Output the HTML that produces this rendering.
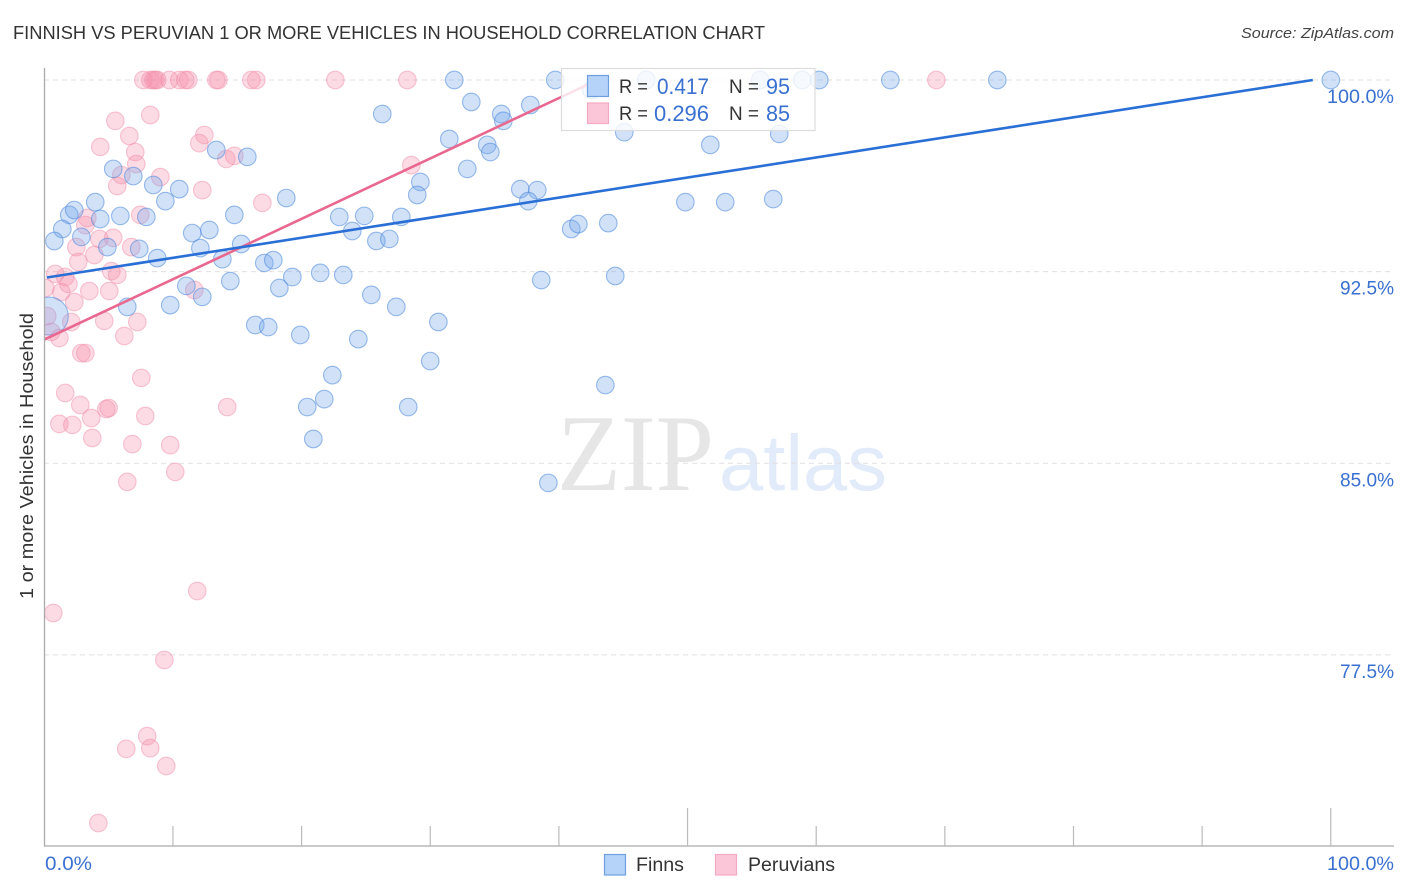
<!DOCTYPE html>
<html lang="en">
<head>
<meta charset="utf-8">
<title>Finnish vs Peruvian 1 or more Vehicles in Household Correlation Chart</title>
<style>
html,body{margin:0;padding:0;background:#fff;}
body{width:1406px;height:892px;overflow:hidden;}
svg{display:block;font-family:"Liberation Sans",sans-serif;}
</style>
</head>
<body>
<svg id="chart" width="1406" height="892" viewBox="0 0 1406 892" xmlns="http://www.w3.org/2000/svg">
  <rect x="0" y="0" width="1406" height="892" fill="#fff"/>
  <text x="13" y="39" font-size="18.5" fill="#333" textLength="752" lengthAdjust="spacingAndGlyphs">FINNISH VS PERUVIAN 1 OR MORE VEHICLES IN HOUSEHOLD CORRELATION CHART</text>
  <text x="1241" y="38" font-size="15" font-style="italic" fill="#444" textLength="153" lengthAdjust="spacingAndGlyphs">Source: ZipAtlas.com</text>
  <g>
    <text x="557" y="490" font-family="'Liberation Serif',serif" font-size="109" fill="#e6e6e6" textLength="157" lengthAdjust="spacingAndGlyphs">ZIP</text>
    <text x="719" y="490" font-size="79" fill="#e2ebf9" textLength="168" lengthAdjust="spacingAndGlyphs">atlas</text>
  </g>
  <g id="grid"></g>
  <g id="peruvian-points"></g>
  <g id="finn-points"></g>
  <g id="trends"></g>
  <rect x="0" y="60" width="44.5" height="786" fill="#fff"/>
  <g id="axes"></g>
  <text transform="translate(33,456) rotate(-90)" text-anchor="middle" font-size="18.5" fill="#333" textLength="286" lengthAdjust="spacingAndGlyphs">1 or more Vehicles in Household</text>
  <g id="y-labels"></g>
  <g id="x-labels"></g>

  <g>
    <rect x="561.5" y="68.5" width="253.5" height="62" fill="#fff" fill-opacity="0.8" stroke="#dcdcdc" stroke-width="1.2"/>
    <rect x="587.5" y="75.5" width="21" height="21" fill="#b5d2f8" stroke="#6ea0df" stroke-width="1.2"/>
    <rect x="587.5" y="103" width="21" height="20.5" fill="#fcc6d9" stroke="#f6a9c2" stroke-width="1.2"/>
    <text x="619" y="93" font-size="19" fill="#333" textLength="29" lengthAdjust="spacingAndGlyphs">R =</text>
    <text x="657" y="94" font-size="22" fill="#3a70d0" textLength="52" lengthAdjust="spacingAndGlyphs">0.417</text>
    <text x="729" y="93" font-size="19" fill="#333" textLength="30" lengthAdjust="spacingAndGlyphs">N =</text>
    <text x="766" y="94" font-size="22" fill="#3a70d0" textLength="24" lengthAdjust="spacingAndGlyphs">95</text>
    <text x="619" y="120" font-size="19" fill="#333" textLength="29" lengthAdjust="spacingAndGlyphs">R =</text>
    <text x="654" y="121" font-size="22" fill="#3a70d0" textLength="55" lengthAdjust="spacingAndGlyphs">0.296</text>
    <text x="729" y="120" font-size="19" fill="#333" textLength="30" lengthAdjust="spacingAndGlyphs">N =</text>
    <text x="766" y="121" font-size="22" fill="#3a70d0" textLength="24" lengthAdjust="spacingAndGlyphs">85</text>
  </g>

  <g>
    <rect x="604.5" y="854.5" width="21" height="20.5" fill="#b5d2f8" stroke="#6ea0df" stroke-width="1.2"/>
    <text x="636" y="871" font-size="19" fill="#333" textLength="48" lengthAdjust="spacingAndGlyphs">Finns</text>
    <rect x="715.5" y="854.5" width="21" height="20.5" fill="#fcc6d9" stroke="#f6a9c2" stroke-width="1.2"/>
    <text x="748" y="871" font-size="19" fill="#333" textLength="87" lengthAdjust="spacingAndGlyphs">Peruvians</text>
  </g>
</svg>
<script>
const finnsX = [31.87,39.72,46.79,55.65,58.92,60.24,65.76,74.08,100,42.52,26.27,33.19,35.52,37.78,35.68,31.48,34.43,34.67,32.88,45.08,51.77,57.13,13.37,15.78,5.36,6.92,8.47,10.49,9.41,18.81,29.23,28.99,37.0,38.32,37.62,49.83,52.93,56.66,1.94,2.33,3.96,1.40,0.78,4.35,5.91,7.93,2.88,4.90,7.38,8.78,11.50,12.83,14.77,12.13,13.84,15.31,22.93,24.87,23.94,25.81,26.82,27.75,40.96,41.51,43.84,17.10,17.80,19.28,21.45,23.24,18.27,14.46,11.04,12.28,9.79,6.45,38.63,44.38,25.42,27.36,16.40,17.41,19.90,24.41,30.63,30.0,22.39,43.61,20.44,21.76,28.29,20.91,39.18];
const finnsY = [100,100,100,100,100,100,100,100,100,99.61,98.67,99.14,98.67,99.02,98.40,97.69,97.46,97.18,96.52,97.96,97.46,97.89,97.26,96.99,96.52,96.24,95.89,95.73,95.26,95.38,96.01,95.50,95.73,95.69,95.26,95.22,95.22,95.34,94.72,94.91,95.22,94.17,93.70,94.56,94.68,94.64,93.86,93.46,93.39,93.03,94.01,94.13,94.72,93.42,92.99,93.58,94.64,94.68,94.09,93.70,93.78,94.64,94.17,94.36,94.40,92.84,92.95,92.29,92.45,92.37,91.86,92.13,91.94,91.51,91.19,91.12,92.17,92.33,91.59,91.12,90.41,90.33,90.02,89.86,90.53,89.0,88.45,88.06,87.20,87.51,87.20,85.95,84.23];
const finnsClusterX = [0.23];
const finnsClusterY = [90.76];

const peruviansX = [7.70,8.24,8.47,8.63,8.78,9.72,10.49,10.96,11.19,13.37,13.53,16.09,16.48,22.62,28.22,69.34,8.24,5.52,6.61,4.35,7.07,7.15,5.99,5.67,9.02,12.28,12.44,12.05,14.15,14.77,16.95,28.53,7.46,3.34,3.19,4.28,5.36,2.49,3.89,6.76,2.64,5.21,5.67,0.85,1.63,1.87,1.32,3.50,5.05,2.33,11.66,0.08,2.10,4.66,7.23,6.22,1.17,0.54,0.23,2.88,3.19,7.54,1.63,2.80,14.22,4.82,5.0,7.85,3.65,1.17,2.18,3.73,6.84,9.79,10.18,6.45,11.89,0.70,9.33,8.0,8.24,6.37,9.48,4.20];
const peruviansY = [100,100,100,100,100,100,100,100,100,100,100,100,100,100,100,100,98.63,98.40,97.81,97.38,97.18,96.71,96.28,95.85,96.20,95.69,97.85,97.53,96.91,97.03,95.19,96.67,94.72,94.60,94.32,93.78,93.82,93.46,93.15,93.46,92.88,92.52,92.37,92.41,92.29,92.02,91.70,91.74,91.74,91.31,91.78,91.86,90.53,90.57,90.53,89.98,89.90,90.14,90.76,89.31,89.31,88.34,87.75,87.28,87.20,87.12,87.16,86.85,86.77,86.54,86.50,85.99,85.75,85.71,84.66,84.27,80.0,79.14,77.30,74.32,73.85,73.82,73.15,70.92];

const finnsTrendX = [0.2,98.6];
const finnsTrendY = [92.27,100];
const peruviansTrendX = [0,43];
const peruviansTrendY = [89.84,100];

const yTickValues = [100,92.5,85,77.5];
const yTickLabels = ["100.0%","92.5%","85.0%","77.5%"];
const xTickValues = [0,10,20,30,40,50,60,70,80,90,100];
const xMajorTicks = [50,100];
const xEdgeLabels = ["0.0%","100.0%"];

const NS = "http://www.w3.org/2000/svg";
function xScale(v){ return 44.3 + v * 12.865; }
function yScale(v){ return 80 + (100 - v) * 25.55; }
function make(tag, attrs, parent){
  const el = document.createElementNS(NS, tag);
  for (const k in attrs) el.setAttribute(k, attrs[k]);
  parent.appendChild(el);
  return el;
}

const grid = document.getElementById("grid");
const axes = document.getElementById("axes");
const yLabels = document.getElementById("y-labels");
const xLabels = document.getElementById("x-labels");

yTickValues.forEach(function(v, i){
  const line = make("line", {x1:44, x2:1394, y1:yScale(v), y2:yScale(v), stroke:"#e2dfe2", "stroke-width":1, "stroke-dasharray":"5 4"}, grid);
  
  
  const t = make("text", {x:1394, y:yScale(v)+23, "text-anchor":"end", "font-size":19, fill:"#3a70d0", textLength:yTickLabels[i].length === 6 ? 67 : 54, lengthAdjust:"spacingAndGlyphs"}, yLabels);
  
  
  t.textContent = yTickLabels[i];
});

const yAxis = make("line", {x1:44.5, x2:44.5, y1:68, y2:846.5, stroke:"#aaa", "stroke-width":1.3}, axes);


const xAxis = make("line", {x1:44, x2:1394, y1:846, y2:846, stroke:"#aaa", "stroke-width":1.3}, axes);



xTickValues.forEach(function(v){
  if (v === 0) return;
  const major = xMajorTicks.indexOf(v) >= 0;
  const tick = make("line", {x1:xScale(v), x2:xScale(v), y1:major ? 808 : 826, y2:846, stroke:"#bbb", "stroke-width":1.2}, axes);
  
  
});

const xLeft = make("text", {x:45, y:870, "font-size":19, fill:"#3a70d0", textLength:47, lengthAdjust:"spacingAndGlyphs"}, xLabels);


xLeft.textContent = xEdgeLabels[0];
const xRight = make("text", {x:1327, y:870, "font-size":19, fill:"#3a70d0", textLength:67, lengthAdjust:"spacingAndGlyphs"}, xLabels);


xRight.textContent = xEdgeLabels[1];

const peruvianGroup = document.getElementById("peruvian-points");
peruviansX.forEach(function(v, i){
  const c = make("circle", {cx:xScale(v), cy:yScale(peruviansY[i]), r:8.8, fill:"#f590aa", "fill-opacity":0.32, stroke:"#f090aa", "stroke-opacity":0.5, "stroke-width":1.1}, peruvianGroup);
  
  
});

const finnGroup = document.getElementById("finn-points");
finnsX.forEach(function(v, i){
  const c = make("circle", {cx:xScale(v), cy:yScale(finnsY[i]), r:8.8, fill:"#76a8ea", "fill-opacity":0.34, stroke:"#4a86da", "stroke-opacity":0.55, "stroke-width":1.1}, finnGroup);
  
  
});
finnsClusterX.forEach(function(v, i){
  const c = make("circle", {cx:xScale(v)+2, cy:yScale(finnsClusterY[i]), r:19, fill:"#76a8ea", "fill-opacity":0.34, stroke:"#4a86da", "stroke-opacity":0.55, "stroke-width":1.1}, finnGroup);
  
  
});

const trends = document.getElementById("trends");
const pinkLine = make("line", {x1:xScale(peruviansTrendX[0]), y1:yScale(peruviansTrendY[0]), x2:xScale(peruviansTrendX[1]), y2:yScale(peruviansTrendY[1]), stroke:"#e8688f", "stroke-width":2.6}, trends);


const blueLine = make("line", {x1:xScale(finnsTrendX[0]), y1:yScale(finnsTrendY[0]), x2:xScale(finnsTrendX[1]), y2:yScale(finnsTrendY[1]), stroke:"#2a6fd6", "stroke-width":2.6}, trends);


</script>
</body>
</html>
